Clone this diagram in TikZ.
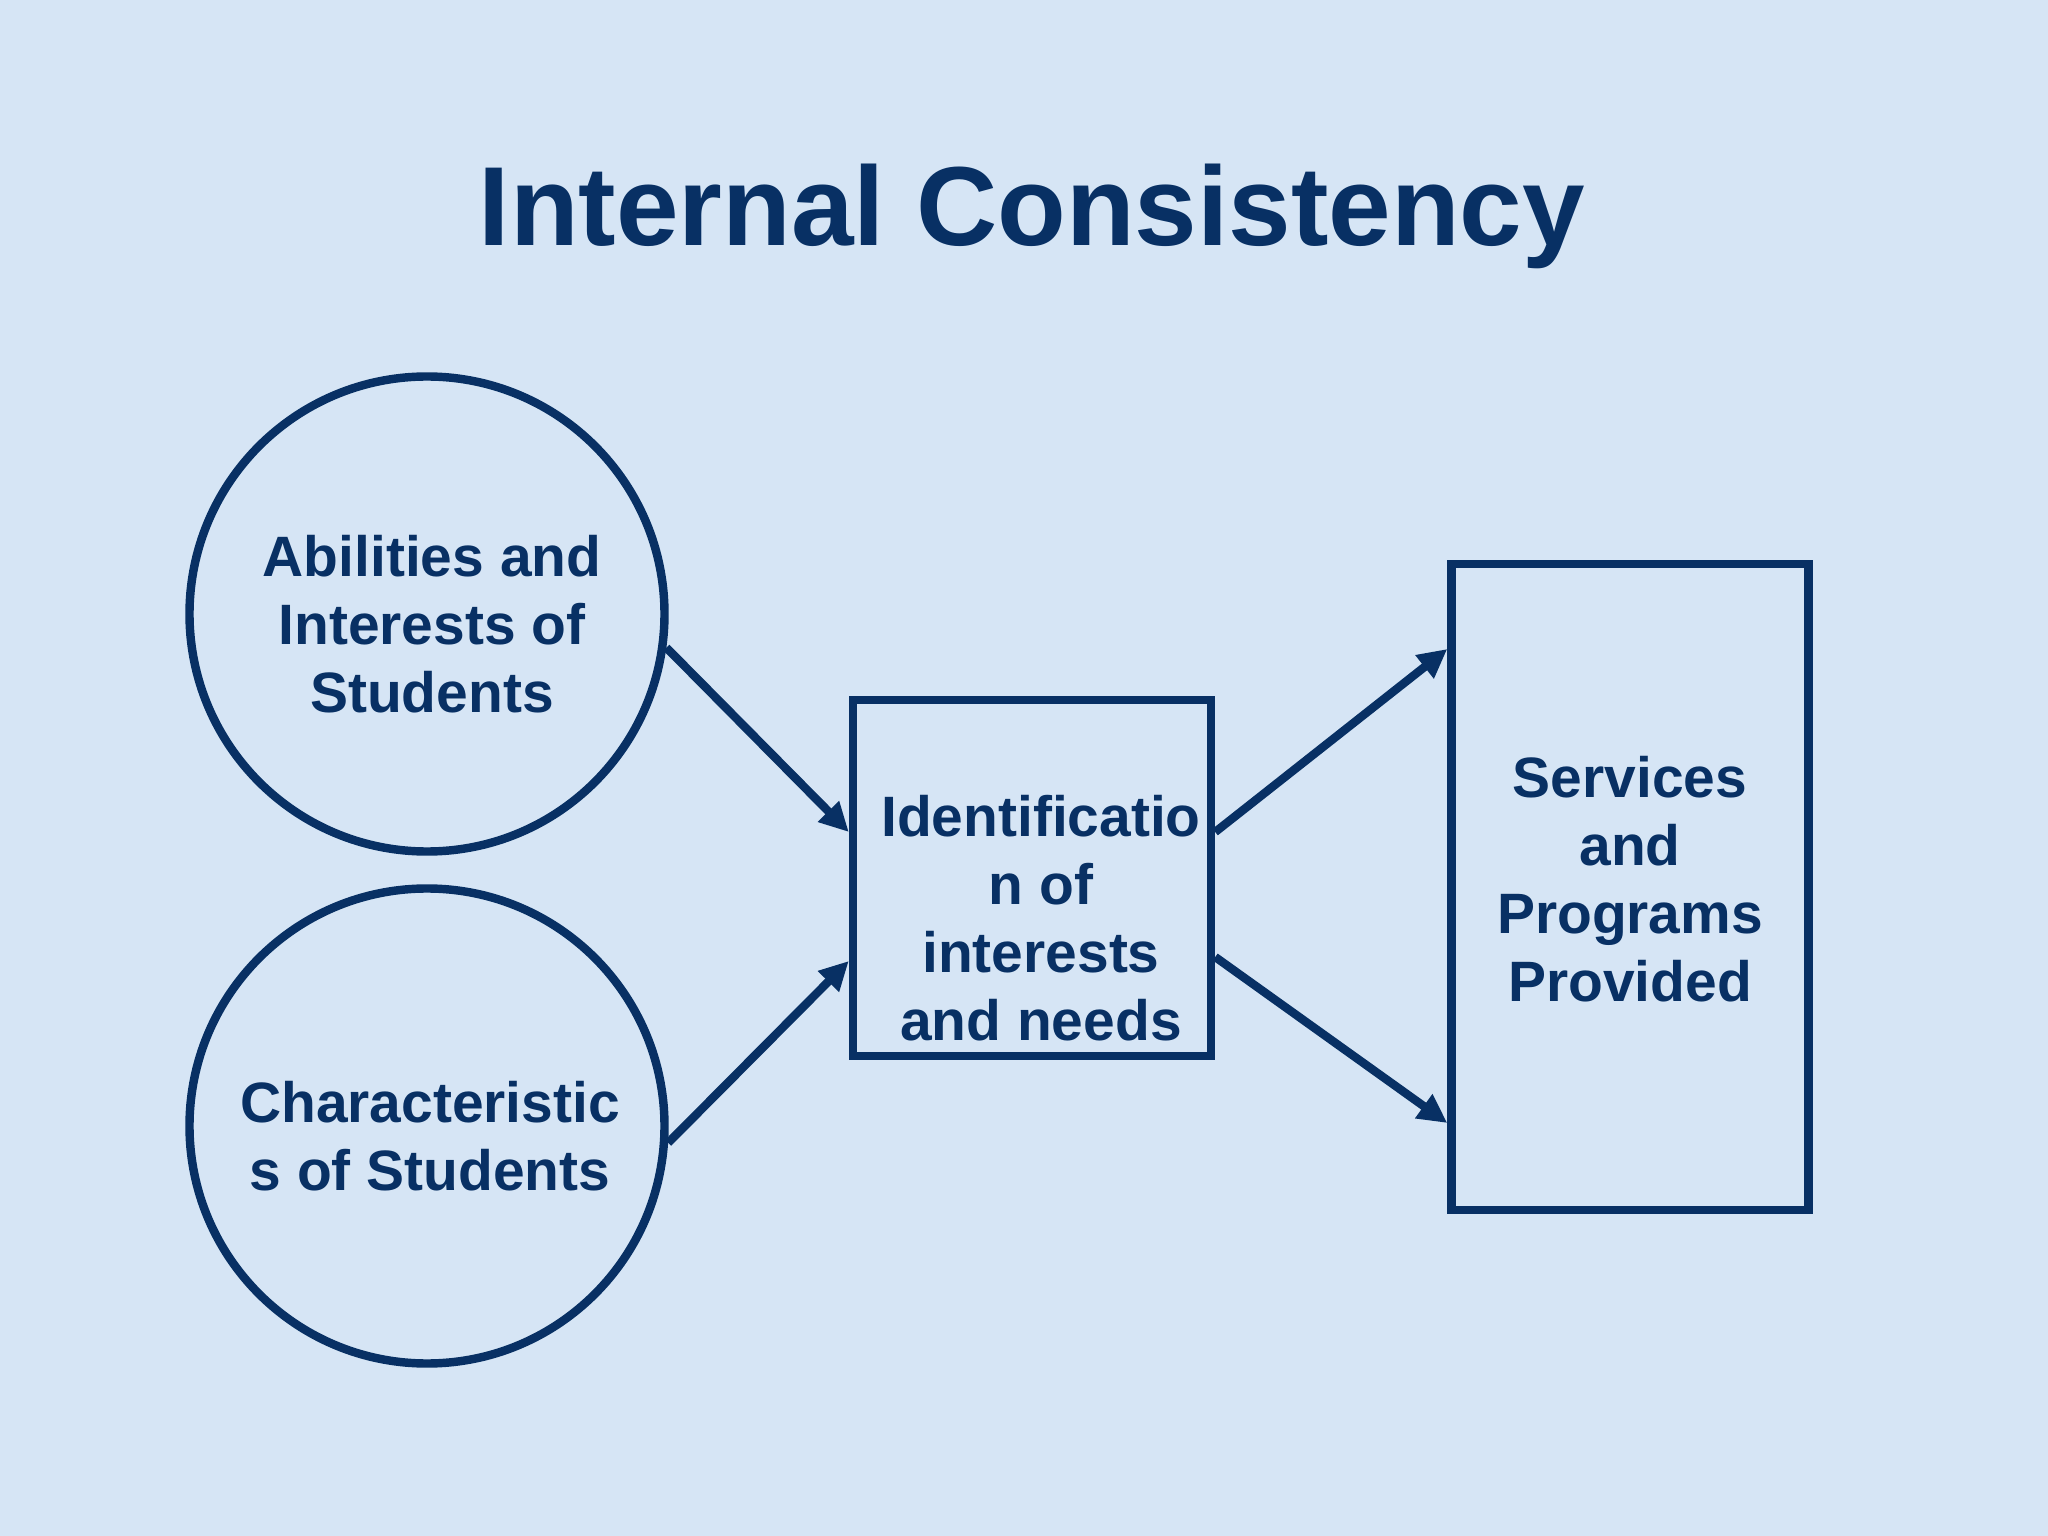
\documentclass[tikz,border=0pt]{standalone}
\usepackage{fontspec}
\setmainfont{Liberation Sans}
\usetikzlibrary{arrows.meta}
\definecolor{navy}{RGB}{8,48,100}
\definecolor{paper}{RGB}{214,229,245}

\begin{document}
\begin{tikzpicture}
    \tikzstyle{ring} = [draw=navy, line width=2.4pt, circle, minimum size=4.75cm]
    \tikzstyle{panel} = [draw=navy, line width=2.4pt, rectangle]
    \tikzstyle{words} = [text=navy, font=\fontsize{16.2}{19.3}\selectfont\bfseries, align=center]
    \tikzstyle{flow} = [draw=navy, line width=2.4pt, -{Triangle[length=2.9mm, width=2.8mm]}]
    \fill[paper] (0, 0) rectangle (20.48, -15.36);
    \useasboundingbox (0, 0) rectangle (20.48, -15.36);
    \node[text=navy, font=\fontsize{32}{38}\selectfont\bfseries, anchor=base] (title) at (10.32, -2.46) {Internal Consistency};

    \node[ring] (abil) at (4.27, -6.14) {};
    \node[ring] (chars) at (4.27, -11.26) {};
    \node[panel, minimum width=3.58cm, minimum height=3.56cm] (ident) at (10.32, -8.78) {};
    \node[panel, minimum width=3.57cm, minimum height=6.46cm] (serv) at (16.3, -8.87) {};

    \node[words] (abiltext) at ([xshift=0.5mm, yshift=-1mm]abil.center) {Abilities and\\Interests of\\Students};
    \node[words] (charstext) at ([xshift=0.3mm, yshift=-1mm]chars.center) {Characteristic\\s of Students};
    \node[words] (identtext) at ([xshift=0.9mm, yshift=-4mm]ident.center) {Identificatio\\n of\\interests\\and needs};
    \node[words] (servtext) at ([yshift=0.8mm]serv.center) {Services\\and\\Programs\\Provided};

    \draw[flow] (abil.-8) -- ([yshift=4.6mm]ident.west);
    \draw[flow] (chars.-4) -- ([yshift=-8.3mm]ident.west);
    \draw[flow] ([yshift=4.6mm]ident.east) -- ([yshift=23.8mm]serv.west);
    \draw[flow] ([yshift=-7.9mm]ident.east) -- ([yshift=-23.6mm]serv.west);
\end{tikzpicture}
\end{document}
